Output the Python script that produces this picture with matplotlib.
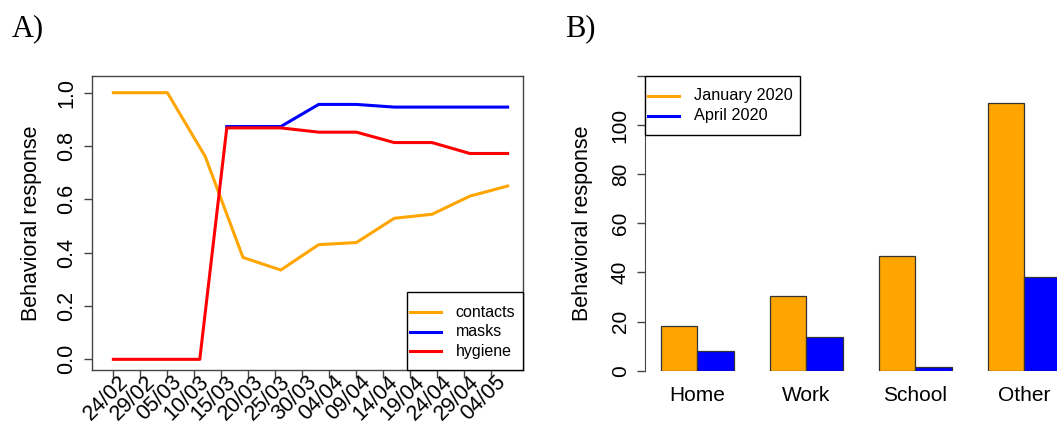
import matplotlib
matplotlib.use("Agg")
import matplotlib.pyplot as plt
import matplotlib.transforms as mtransforms
from matplotlib.lines import Line2D
from matplotlib.patches import Rectangle
import numpy as np

plt.rcParams["font.family"] = ["Liberation Sans", "DejaVu Sans"]

# Panel A: behavioural response over time (day 0 = 24/02)
date_ticks = [0, 5, 10, 15, 20, 25, 30, 35, 40, 45, 50, 55, 60, 65, 70]
date_labels = ["24/02", "29/02", "05/03", "10/03", "15/03", "20/03", "25/03",
               "30/03", "04/04", "09/04", "14/04", "19/04", "24/04", "29/04",
               "04/05"]
contact_days = [0, 10, 17, 24, 31, 38, 45, 52, 59, 66, 73]
contacts = [1.0, 1.0, 0.761, 0.382, 0.335, 0.430, 0.438, 0.529, 0.544, 0.612, 0.650]
mask_days = [21, 31, 38, 45, 52, 59, 66, 73]
masks = [0.873, 0.873, 0.956, 0.956, 0.946, 0.946, 0.946, 0.946]
hygiene_days = [0, 16, 21, 31, 38, 45, 52, 59, 66, 73]
hygiene = [0, 0, 0.868, 0.868, 0.852, 0.852, 0.813, 0.813, 0.772, 0.772]
series_a = ["contacts", "masks", "hygiene"]
colors_a = ["orange", "blue", "red"]

# Panel B: contacts by setting
settings = ["Home", "Work", "School", "Other"]
jan_2020 = [18.0, 30.3, 46.8, 109.1]
apr_2020 = [7.9, 13.7, 1.4, 38.1]
series_b = ["January 2020", "April 2020"]
colors_b = ["orange", "blue"]

W, H = 1057, 423
fig = plt.figure(figsize=(W / 100, H / 100), dpi=100)
frame_col = "#444444"


def px_box(x0, y0, x1, y1):
    # pixel box (top-left origin) -> figure fraction rect
    return [x0 / W, 1 - y1 / H, (x1 - x0) / W, (y1 - y0) / H]


def r_legend(labels, colors, box, line_x, text_x, rows, fontsize):
    x0, y0, x1, y1 = box
    fig.add_artist(Rectangle((x0 / W, 1 - y1 / H), (x1 - x0) / W, (y1 - y0) / H,
                             transform=fig.transFigure, fill=True, fc="white",
                             ec="black", lw=1, zorder=5))
    for lab, col, y in zip(labels, colors, rows):
        fig.add_artist(Line2D([line_x[0] / W, line_x[1] / W], [1 - y / H] * 2,
                              transform=fig.transFigure, color=col, lw=2.2,
                              zorder=6))
        fig.text(text_x / W, 1 - y / H, lab, fontsize=fontsize, va="center",
                 ha="left", zorder=6)


# ---- panel A ----
axA = fig.add_axes(px_box(92.3, 76, 523.3, 370))
axA.plot(contact_days, contacts, color=colors_a[0], lw=2.2)
axA.plot(mask_days, masks, color=colors_a[1], lw=2.2)
axA.plot(hygiene_days, hygiene, color=colors_a[2], lw=2.2)
axA.set_xlim(-3.9, 75.9)
axA.set_ylim(-0.04, 1.0626)
axA.set_xticks(date_ticks)
axA.set_xticklabels(date_labels, rotation=45, ha="right", va="top",
                    rotation_mode="anchor", fontsize=15.5)
axA.set_yticks([0, 0.2, 0.4, 0.6, 0.8, 1.0])
axA.set_yticklabels(["0.0", "0.2", "0.4", "0.6", "0.8", "1.0"],
                    rotation=90, va="center", fontsize=15.5)
axA.tick_params(length=6, width=1, color=frame_col)
axA.tick_params(axis="x", pad=0)
axA.tick_params(axis="y", pad=5)
shift = mtransforms.ScaledTranslation(4 / 100, 7 / 100, fig.dpi_scale_trans)
for lab in axA.get_xticklabels():
    lab.set_transform(lab.get_transform() + shift)
for s in axA.spines.values():
    s.set_color(frame_col)
    s.set_linewidth(1)
axA.set_ylabel("Behavioral response", fontsize=15.5)
axA.yaxis.set_label_coords(-0.1167, 0.5)
r_legend(series_a, colors_a, (406.7, 292.3, 523.3, 370), (410, 441), 455.7,
         [312.3, 331.7, 351], 11.5)

# ---- panel B ----
x_left, x_right = 0.56, 12.44
unit = 36.33
b_left = 645
b_right = b_left + (x_right - x_left) * unit
axB = fig.add_axes(px_box(b_left, 76, b_right, 370.7))
centers = np.arange(len(settings)) * 3 + 2
axB.bar(centers - 0.5, jan_2020, width=1, color=colors_b[0], edgecolor="#333333",
        lw=0.9)
axB.bar(centers + 0.5, apr_2020, width=1, color=colors_b[1], edgecolor="#333333",
        lw=0.9)
axB.set_xlim(x_left, x_right)
axB.set_ylim(0, 120)
axB.set_xticks(centers)
axB.set_xticklabels(settings, fontsize=15)
axB.tick_params(axis="x", length=0, pad=11)
axB.set_yticks([0, 20, 40, 60, 80, 100, 120])
axB.set_yticklabels(["0", "20", "40", "60", "80", "100", ""],
                    rotation=90, va="center", fontsize=15)
axB.tick_params(axis="y", length=6, width=1, color=frame_col, pad=5)
for k in ["top", "right", "bottom"]:
    axB.spines[k].set_visible(False)
axB.spines["left"].set_color(frame_col)
axB.set_ylabel("Behavioral response", fontsize=15.5)
axB.yaxis.set_label_coords((593 - b_left) / (b_right - b_left), 0.5)
r_legend(series_b, colors_b, (645, 76, 800, 135), (648.3, 679.3), 694,
         [95.7, 115.7], 11.7)

fig.text(12 / W, 1 - 36 / H, "A)", fontsize=22, family=["Liberation Serif"])
fig.text(565 / W, 1 - 36 / H, "B)", fontsize=22, family=["Liberation Serif"])

fig.savefig("out.png", dpi=100)
